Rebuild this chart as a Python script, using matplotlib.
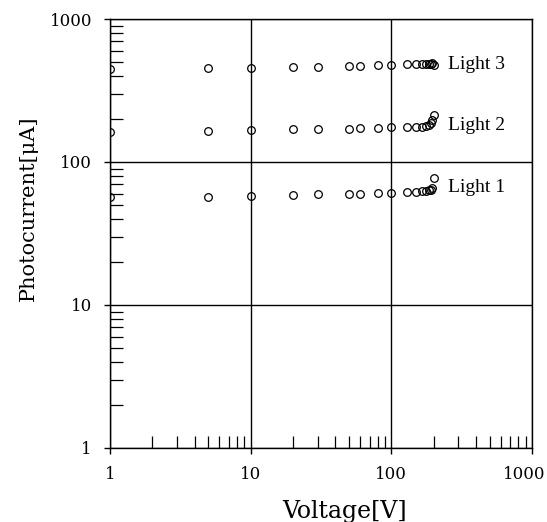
import matplotlib
matplotlib.use("Agg")
import matplotlib.pyplot as plt
from matplotlib.ticker import LogLocator, NullFormatter, FixedLocator
import matplotlib.transforms as mtransforms

voltage = [1, 5, 10, 20, 30, 50, 60, 80, 100, 130, 150, 165, 175, 185, 190, 195, 200]

light1 = [56.5, 57, 57.5, 58.5, 59.3, 60, 60, 60.7, 61, 61.5, 62, 62.5, 63, 63.5, 64, 66, 77]
light2 = [162, 165, 167, 170, 170, 171, 172, 174, 175, 176, 177, 177, 178, 180, 187, 197, 212]
light3 = [449, 456, 453, 462, 462, 471, 471, 478, 480, 481, 482, 483, 484, 485, 487, 490, 480]

series_names = ["Light 1", "Light 2", "Light 3"]
series = [light1, light2, light3]
label_pos = [(252, 66), (252, 181), (252, 478)]

fig = plt.figure(figsize=(5.47, 5.22), dpi=100)
ax = fig.add_axes([0.2011, 0.1418, 0.7715, 0.8218])

for vals in series:
    ax.plot(voltage, vals, 'o', mfc='none', mec='black', ms=5.5, mew=0.9)

ax.set_xscale('log')
ax.set_yscale('log')
ax.set_xlim(1, 1000)
ax.set_ylim(1, 1000)

ax.grid(True, which='major', color='black', lw=1)

ax.xaxis.set_major_locator(FixedLocator([1, 10, 100, 1000]))
ax.yaxis.set_major_locator(FixedLocator([1, 10, 100, 1000]))
ax.xaxis.set_minor_locator(LogLocator(base=10, subs=range(2, 10)))
ax.yaxis.set_minor_locator(LogLocator(base=10, subs=range(2, 10)))
ax.xaxis.set_minor_formatter(NullFormatter())
ax.yaxis.set_minor_formatter(NullFormatter())
ax.set_xticklabels(['1', '10', '100', '1000'])
ax.set_yticklabels(['1', '10', '100', '1000'])

ax.tick_params(which='major', direction='out', length=4, width=1, labelsize=12, pad=9)
ax.tick_params(which='minor', direction='in', length=9, width=0.9)
for lab in ax.get_xticklabels() + ax.get_yticklabels():
    lab.set_family('DejaVu Serif')
# last x label sits a bit left so it stays inside the figure
last = ax.get_xticklabels()[-1]
last.set_transform(last.get_transform() + mtransforms.ScaledTranslation(-8 / 100, 0, fig.dpi_scale_trans))

for sp in ax.spines.values():
    sp.set_color('black')
    sp.set_linewidth(1)

for name, (x, y) in zip(series_names, label_pos):
    ax.text(x, y, name, fontsize=14, family='Liberation Serif', va='center', ha='left')

ax.set_xlabel('Voltage[V]', fontsize=17, family='DejaVu Serif')
ax.set_ylabel('Photocurrent[μA]', fontsize=15, family='DejaVu Serif')
ax.xaxis.set_label_coords(0.557, -0.122)
ax.yaxis.set_label_coords(-0.172, 0.559)

fig.savefig('out.png', dpi=100)
